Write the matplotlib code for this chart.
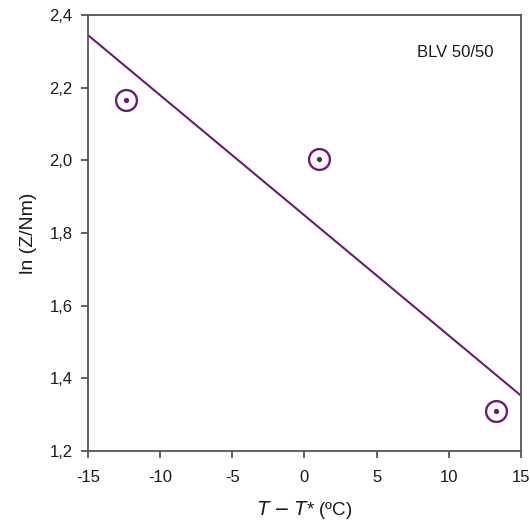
import matplotlib.pyplot as plt
from matplotlib.ticker import FuncFormatter

plt.rcParams['font.family'] = ['Liberation Sans', 'DejaVu Sans']

# data
dT = [-12.35, 1.03, 13.24]
lnZ = [2.167, 2.003, 1.31]
fit_x = [-15, 15]
fit_y = [2.345, 1.352]
x_ticks = [-15, -10, -5, 0, 5, 10, 15]
y_ticks = [1.2, 1.4, 1.6, 1.8, 2.0, 2.2, 2.4]

purple = '#6b1a7a'
gray = '#555555'
txt = '#1a1a1a'

fig = plt.figure(figsize=(5.3, 5.23), dpi=100)
ax = fig.add_axes([0.166, 0.138, 0.817, 0.833])

ax.plot(fit_x, fit_y, color=purple, lw=1.5, solid_capstyle='butt')
ax.plot(dT, lnZ, linestyle='none', marker='o', ms=15, mfc='none',
        mec=purple, mew=1.7)
ax.plot(dT, lnZ, linestyle='none', marker='o', ms=2.8, color=purple)

ax.set_xlim(-15, 15)
ax.set_ylim(1.2, 2.4)
ax.set_xticks(x_ticks)
ax.set_yticks(y_ticks)
ax.yaxis.set_major_formatter(FuncFormatter(lambda v, p: f'{v:.1f}'.replace('.', ',')))
ax.xaxis.set_major_formatter(FuncFormatter(lambda v, p: f'{v:.0f}'))

for s in ax.spines.values():
    s.set_color(gray)
    s.set_linewidth(1.3)
ax.tick_params(direction='out', length=5, width=1.3, color=gray,
               labelsize=12, labelcolor=txt, pad=6)
ax.tick_params(axis='x', pad=9)

ax.set_xlabel(r'$\it{T}$ $-$ $\it{T}$* (ºC)', fontsize=13.5, color=txt, labelpad=10)
ax.set_ylabel('ln (Z/Nm)', fontsize=14, color=txt, labelpad=9)
ax.text(0.848, 0.915, 'BLV 50/50', transform=ax.transAxes, ha='center', va='center',
        fontsize=12, color=txt)

fig.savefig('out.png', dpi=100)
